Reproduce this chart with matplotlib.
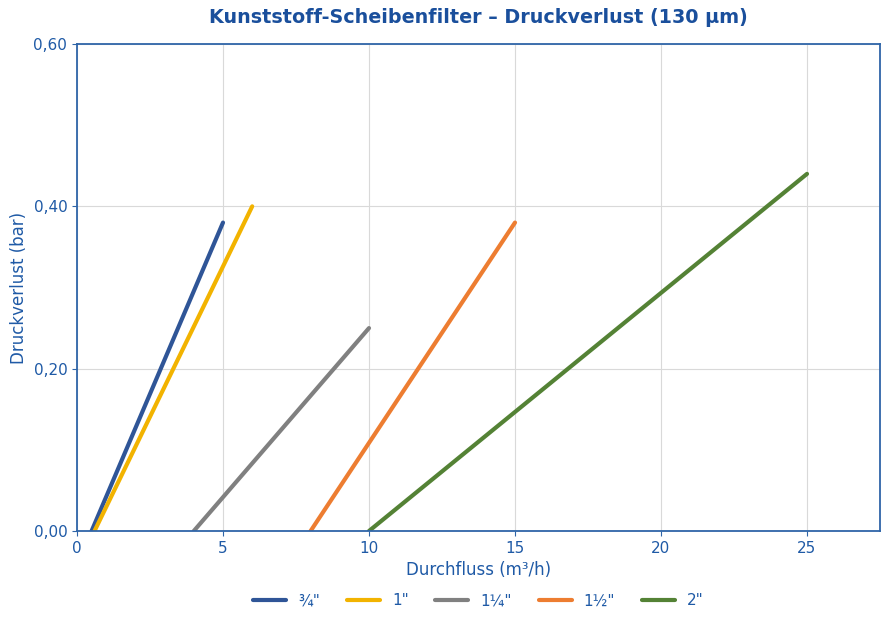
import matplotlib
matplotlib.use("Agg")
import matplotlib.pyplot as plt
from matplotlib.ticker import FuncFormatter

labels = ['¾"', '1"', '1¼"', '1½"', '2"']
x_vals = [[0.5, 5], [0.6, 6], [4, 10], [8, 15], [10, 25]]
y_vals = [[0.0, 0.38], [0.0, 0.40], [0.0, 0.25], [0.0, 0.38], [0.0, 0.44]]
colors = ['#2F5597', '#F2B300', '#808080', '#ED7D31', '#548235']

txt = '#1F5AA6'
fig = plt.figure(figsize=(8.89, 6.25), dpi=100)
ax = fig.add_axes([77/889, 1-531/625, (880-77)/889, (531-44)/625])
for xs, ys, c, l in zip(x_vals, y_vals, colors, labels):
    ax.plot(xs, ys, color=c, lw=3, label=l, solid_capstyle='round')
ax.set_xlim(0, 27.5)
ax.set_ylim(0, 0.6)
ax.set_xticks([0, 5, 10, 15, 20, 25])
ax.set_yticks([0, 0.2, 0.4, 0.6])
ax.yaxis.set_major_formatter(FuncFormatter(lambda v, p: f"{v:.2f}".replace('.', ',')))
ax.grid(True, color='#D9D9D9', lw=0.8)
ax.set_axisbelow(True)
for s in ax.spines.values():
    s.set_color('#2F65A8')
    s.set_linewidth(1.3)
ax.tick_params(colors=txt, labelcolor=txt, labelsize=11)
ax.tick_params(axis='both', color='#2F65A8')
ax.set_xlabel('Durchfluss (m³/h)', color=txt, fontsize=12)
ax.set_ylabel('Druckverlust (bar)', color=txt, fontsize=12)
ax.set_title('Kunststoff-Scheibenfilter – Druckverlust (130 µm)', color='#1A4F9C',
             fontsize=13.8, fontweight='bold', pad=15)
leg = ax.legend(loc='upper center', bbox_to_anchor=(0.5, -0.1), ncol=5, frameon=False,
                fontsize=11, handlelength=2.15, columnspacing=1.75)
for t in leg.get_texts():
    t.set_color(txt)
fig.savefig('out.png', dpi=100)
